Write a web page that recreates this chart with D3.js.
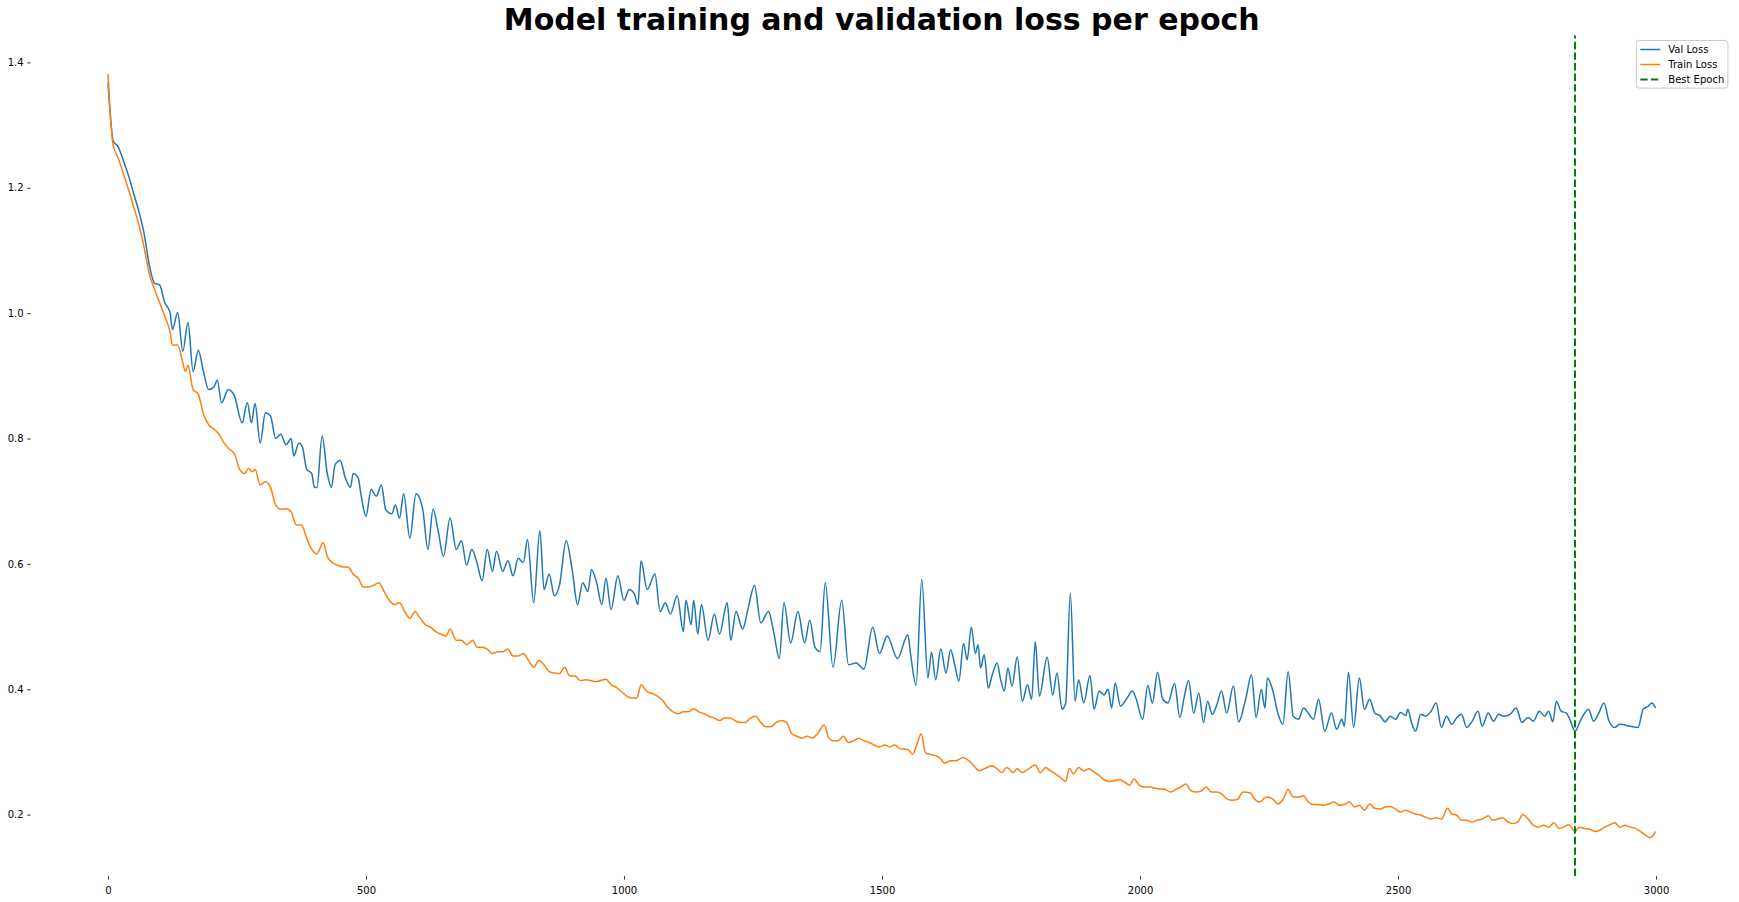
<!DOCTYPE html>
<html>
<head>
<meta charset="utf-8">
<script src="https://cdn.jsdelivr.net/npm/d3@7"></script>
<style>
body { margin: 0; background: #fff; }
svg { display: block; font-family: "DejaVu Sans", sans-serif; }
</style>
</head>
<body>
<svg id="chart" width="1739" height="902"></svg>
<script>
// values (epoch, loss)
const valEpochs = [0,5,10,20,30,40,50,60,70,80,90,100,110,120,125,135,145,155,165,175,185,195,205,212,220,233,245,260,270,278,285,295,305,315,325,335,345,355,360,370,377,385,395,400,405,415,425,433,440,450,460,470,475,485,490,500,510,520,530,538,550,557,565,573,585,597,610,620,630,640,650,663,675,685,695,705,715,725,735,745,753,765,775,785,795,805,813,825,837,845,855,865,875,888,900,910,920,930,937,947,957,965,975,988,1000,1010,1020,1027,1033,1045,1060,1070,1080,1090,1103,1115,1120,1130,1135,1143,1150,1163,1175,1185,1200,1207,1217,1230,1240,1253,1265,1280,1290,1301,1310,1323,1337,1350,1360,1370,1380,1390,1405,1422,1435,1450,1465,1482,1495,1510,1530,1550,
  1556,1566,1577,1589,1596,1604,1614,1624,1633,1641,1649,1658,1665,1673,1681,1686,1691,1698,1706,1713,1723,1730,1737,1744,1752,1762,1772,1782,1790,1797,1805,1820,1831,1839,1849,1856,1865,1874,1881,1891,1903,1911,1921,1930,1938,1945,1952,1962,1975,1985,1992,2005,2015,2024,2034,2044,2054,2067,2077,2086,2094,2104,2114,2123,2131,2140,2148,2158,2168,2181,2191,2205,2216,2225,2235,2242,2247,2257,2267,2277,2287,2297,2307,2317,2326,2336,2346,2358,2371,2381,2391,2396,2404,2414,2425,2435,2445,2455,2465,2475,2485,2495,2505,2515,2519,2526,2534,2544,2554,2564,2574,2584,2594,2604,2614,2623,2633,2643,2655,2663,2675,2685,2695,2705,2717,2729,2740,2752,2762,2774,2784,2792,2800,2807,2816,2826,2833,2843,2853,2869,2879,2889,2899,2909,2920,2930,2950,2965,2975,2985,2992,2999]
const valLoss = [1.368,1.311,1.275,1.265,1.243,1.219,1.190,1.162,1.127,1.077,1.048,1.045,1.017,1.002,0.974,1.001,0.939,0.985,0.907,0.941,0.907,0.878,0.882,0.893,0.857,0.878,0.868,0.825,0.857,0.825,0.856,0.793,0.841,0.836,0.800,0.807,0.790,0.800,0.772,0.793,0.786,0.751,0.744,0.722,0.722,0.804,0.744,0.722,0.758,0.765,0.737,0.722,0.744,0.737,0.712,0.676,0.719,0.708,0.726,0.687,0.680,0.694,0.673,0.712,0.641,0.712,0.687,0.623,0.687,0.652,0.612,0.673,0.623,0.637,0.598,0.623,0.602,0.573,0.623,0.588,0.620,0.588,0.605,0.581,0.609,0.602,0.639,0.538,0.653,0.559,0.584,0.549,0.566,0.637,0.588,0.535,0.570,0.556,0.591,0.570,0.535,0.577,0.527,0.581,0.542,0.559,0.552,0.535,0.605,0.559,0.584,0.524,0.538,0.520,0.549,0.492,0.542,0.503,0.542,0.488,0.535,0.478,0.520,0.488,0.538,0.478,0.524,0.496,0.527,0.566,0.506,0.524,0.492,0.449,0.538,0.474,0.524,0.474,0.510,0.467,0.460,0.570,0.435,0.542,0.439,0.442,0.432,0.499,0.457,0.485,0.449,0.487,
  0.452,0.406,0.575,0.418,0.459,0.415,0.464,0.426,0.463,0.439,0.413,0.473,0.447,0.499,0.457,0.471,0.434,0.455,0.402,0.421,0.442,0.415,0.397,0.434,0.405,0.452,0.381,0.407,0.384,0.476,0.389,0.451,0.391,0.426,0.368,0.378,0.553,0.381,0.415,0.378,0.422,0.368,0.397,0.391,0.400,0.370,0.410,0.373,0.386,0.397,0.386,0.352,0.406,0.378,0.427,0.384,0.378,0.409,0.355,0.389,0.414,0.362,0.394,0.347,0.381,0.360,0.373,0.397,0.362,0.405,0.348,0.385,0.423,0.355,0.400,0.370,0.418,0.399,0.362,0.344,0.428,0.357,0.352,0.370,0.362,0.352,0.384,0.333,0.362,0.336,0.352,0.341,0.427,0.339,0.418,0.368,0.384,0.362,0.358,0.348,0.357,0.352,0.363,0.358,0.368,0.347,0.333,0.360,0.357,0.365,0.378,0.339,0.357,0.344,0.355,0.360,0.339,0.348,0.365,0.341,0.362,0.349,0.360,0.357,0.360,0.370,0.347,0.355,0.349,0.365,0.357,0.365,0.348,0.381,0.365,0.362,0.352,0.333,0.349,0.368,0.349,0.362,0.378,0.349,0.339,0.344,0.341,0.339,0.368,0.373,0.378,0.370]

const trainEpochs = [0,5,10,20,30,40,50,60,70,80,90,100,110,120,125,135,145,150,155,165,175,185,195,205,215,225,235,245,255,265,272,280,285,295,305,315,325,335,345,355,365,375,385,395,405,417,425,435,445,455,465,475,485,495,505,515,525,535,545,555,565,575,585,595,605,615,625,635,645,655,663,675,685,695,707,715,725,735,745,755,765,775,785,795,805,815,825,835,845,855,865,875,885,895,905,915,925,935,945,955,965,975,985,995,1005,1015,1025,1033,1045,1055,1065,1075,1085,1095,1105,1115,1125,1135,1145,1155,1165,1175,1185,1195,1205,1215,1225,1235,1245,1255,1265,1275,1285,1295,1305,1315,1325,1335,1345,1355,1365,1375,1388,1397,1405,1415,1425,1435,1445,1455,1465,1475,1485,1495,1505,1515,1525,1535,1550,
  1559,1567,1576,1584,1594,1604,1614,1621,1633,1643,1658,1668,1678,1688,1698,1713,1723,1732,1742,1754,1762,1772,1784,1797,1807,1817,1826,1836,1846,1856,1863,1871,1881,1891,1901,1911,1921,1930,1940,1950,1960,1970,1980,1988,2000,2010,2020,2029,2039,2049,2059,2069,2079,2089,2099,2109,2119,2128,2138,2148,2158,2168,2178,2188,2200,2213,2222,2232,2245,2257,2267,2277,2287,2297,2307,2317,2326,2336,2346,2356,2366,2376,2386,2396,2406,2416,2425,2435,2445,2455,2465,2475,2485,2495,2505,2515,2524,2534,2544,2554,2564,2574,2584,2596,2604,2614,2623,2633,2643,2653,2663,2675,2683,2693,2703,2713,2722,2732,2742,2752,2762,2772,2782,2792,2802,2812,2821,2831,2843,2851,2861,2871,2881,2891,2901,2911,2920,2930,2940,2950,2960,2970,2980,2988,2995,2999]
const trainLoss = [1.382,1.311,1.268,1.247,1.222,1.197,1.169,1.141,1.105,1.063,1.038,1.017,0.995,0.971,0.949,0.949,0.921,0.907,0.917,0.878,0.871,0.839,0.822,0.815,0.807,0.793,0.783,0.776,0.751,0.744,0.752,0.747,0.751,0.726,0.731,0.722,0.694,0.687,0.688,0.683,0.662,0.662,0.641,0.623,0.616,0.634,0.612,0.602,0.598,0.595,0.595,0.584,0.577,0.563,0.563,0.566,0.570,0.556,0.542,0.535,0.538,0.524,0.513,0.524,0.513,0.503,0.499,0.492,0.488,0.485,0.496,0.478,0.478,0.471,0.478,0.467,0.467,0.464,0.457,0.460,0.460,0.464,0.453,0.453,0.457,0.446,0.435,0.446,0.439,0.428,0.426,0.425,0.435,0.421,0.421,0.414,0.415,0.414,0.412,0.414,0.416,0.407,0.403,0.396,0.389,0.386,0.386,0.407,0.396,0.393,0.389,0.382,0.371,0.364,0.361,0.364,0.364,0.369,0.364,0.361,0.357,0.354,0.350,0.354,0.354,0.350,0.347,0.347,0.354,0.357,0.347,0.340,0.340,0.347,0.350,0.347,0.329,0.325,0.322,0.325,0.322,0.329,0.343,0.322,0.318,0.318,0.325,0.315,0.318,0.322,0.318,0.315,0.311,0.308,0.311,0.308,0.311,0.305,0.304,
  0.296,0.310,0.329,0.299,0.296,0.294,0.289,0.282,0.286,0.286,0.291,0.286,0.278,0.270,0.273,0.278,0.273,0.267,0.275,0.267,0.273,0.267,0.273,0.279,0.267,0.275,0.270,0.265,0.259,0.253,0.274,0.265,0.275,0.270,0.273,0.268,0.262,0.256,0.253,0.254,0.256,0.252,0.247,0.257,0.246,0.244,0.244,0.242,0.241,0.240,0.236,0.240,0.244,0.249,0.238,0.236,0.238,0.244,0.236,0.236,0.233,0.225,0.223,0.224,0.236,0.235,0.225,0.220,0.228,0.225,0.217,0.224,0.240,0.228,0.228,0.230,0.220,0.216,0.216,0.215,0.217,0.220,0.215,0.216,0.220,0.212,0.215,0.207,0.217,0.210,0.209,0.212,0.213,0.209,0.204,0.207,0.204,0.201,0.199,0.196,0.193,0.195,0.193,0.210,0.201,0.199,0.191,0.191,0.188,0.191,0.193,0.198,0.191,0.193,0.195,0.188,0.186,0.188,0.200,0.193,0.183,0.180,0.183,0.180,0.187,0.178,0.180,0.184,0.173,0.180,0.178,0.177,0.173,0.175,0.180,0.184,0.187,0.180,0.183,0.180,0.178,0.173,0.167,0.163,0.167,0.173]

const bestEpoch = 2843
const xTicks = [0, 500, 1000, 1500, 2000, 2500, 3000]
const yTicks = [0.2, 0.4, 0.6, 0.8, 1.0, 1.2, 1.4]
const seriesNames = ['Val Loss', 'Train Loss', 'Best Epoch']
const seriesColors = ['#1f77b4', '#ff7f0e', 'green']
const titleText = 'Model training and validation loss per epoch'

// plot box, in pixels
const box = { left: 30.6, right: 1732.9, top: 35.5, bottom: 876 }

const svg = d3.select('#chart')

const valData = valEpochs.map((e, i) => [e, valLoss[i]])
const trainData = trainEpochs.map((e, i) => [e, trainLoss[i]])

// 5% padding around data, like matplotlib autoscale
const xExt = d3.extent(valEpochs.concat(trainEpochs))
const yExt = d3.extent(valLoss.concat(trainLoss))
const xPad = (xExt[1] - xExt[0]) * 0.05
const yPad = (yExt[1] - yExt[0]) * 0.05

const x = d3.scaleLinear().domain([xExt[0] - xPad, xExt[1] + xPad]).range([box.left, box.right])
const y = d3.scaleLinear().domain([yExt[0] - yPad, yExt[1] + yPad]).range([box.bottom, box.top])

// axes (no spines)
const styleAxis = g => {
    g.select('.domain').remove()
    g.attr('font-family', '"DejaVu Sans", sans-serif').attr('font-size', 10)
    g.selectAll('.tick line').attr('stroke', '#000').attr('stroke-width', 0.8)
    g.selectAll('.tick text').attr('fill', '#000')
}

svg.append('g')
    .attr('transform', `translate(0,${box.bottom})`)
    .call(d3.axisBottom(x).tickValues(xTicks).tickSize(3.5).tickPadding(7).tickSizeOuter(0).tickFormat(d3.format('d')))
    .call(styleAxis)

svg.append('g')
    .attr('transform', `translate(${box.left},0)`)
    .call(d3.axisLeft(y).tickValues(yTicks).tickSize(3.5).tickPadding(3.5).tickSizeOuter(0).tickFormat(d3.format('.1f')))
    .call(styleAxis)

// smooth pass through the read points (the original has one point per epoch)
const line = d3.line().curve(d3.curveMonotoneX).x(d => x(d[0])).y(d => y(d[1]))

svg.append('path').datum(valData)
    .attr('d', line).attr('fill', 'none')
    .attr('stroke', seriesColors[0]).attr('stroke-width', 1.5)
    .attr('stroke-linejoin', 'round')

svg.append('path').datum(trainData)
    .attr('d', line).attr('fill', 'none')
    .attr('stroke', seriesColors[1]).attr('stroke-width', 1.5)
    .attr('stroke-linejoin', 'round')

// best epoch marker
svg.append('line')
    .attr('x1', x(bestEpoch)).attr('x2', x(bestEpoch))
    .attr('y1', box.bottom).attr('y2', box.top)
    .attr('stroke', seriesColors[2]).attr('stroke-width', 2)
    .attr('stroke-dasharray', '7.4,3.2')

// title
svg.append('text')
    .attr('x', (box.left + box.right) / 2).attr('y', 30)
    .attr('text-anchor', 'middle')
    .attr('font-size', 30).attr('font-weight', 'bold')
    .attr('fill', '#000')
    .text(titleText)

// legend
const lg = svg.append('g').attr('transform', `translate(${box.right - 5 - 91.6},${box.top + 5})`)
lg.append('rect')
    .attr('width', 91.6).attr('height', 47.6).attr('rx', 3)
    .attr('fill', '#fff').attr('fill-opacity', 0.8)
    .attr('stroke', '#cccccc').attr('stroke-width', 1)

seriesNames.forEach((name, i) => {
    const row = lg.append('g').attr('transform', `translate(0,${9 + i * 15})`)
    row.append('line')
        .attr('x1', 4).attr('x2', 24)
        .attr('stroke', seriesColors[i])
        .attr('stroke-width', i === 2 ? 2 : 1.5)
        .attr('stroke-dasharray', i === 2 ? '7.4,3.2' : null)
    row.append('text')
        .attr('x', 32).attr('y', 3.6)
        .attr('font-size', 10).attr('fill', '#000')
        .text(name)
})
</script>
</body>
</html>
